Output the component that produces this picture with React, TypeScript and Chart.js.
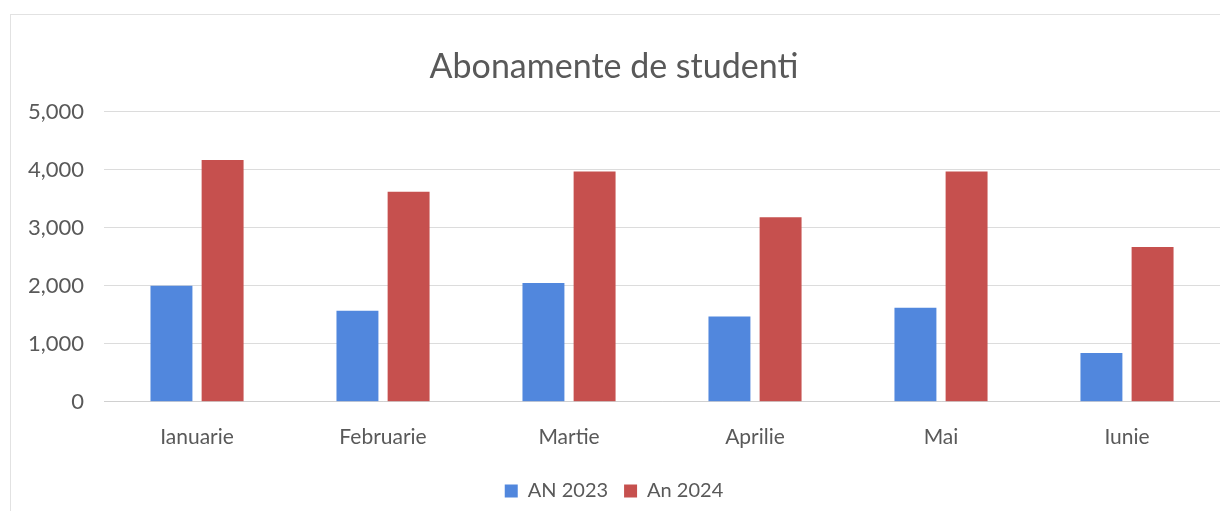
import React, { useEffect, useRef } from "react";
import { Chart, registerables } from "chart.js";

Chart.register(...registerables);

const categories = ["Ianuarie", "Februarie", "Martie", "Aprilie", "Mai", "Iunie"];
const an2023 = [2000, 1570, 2050, 1470, 1620, 840];
const an2024 = [4170, 3620, 3970, 3180, 3970, 2670];
const seriesNames = ["AN 2023", "An 2024"];
const titleText = "Abonamente de studenti";

const FONT = "Lato, 'Open Sans', sans-serif";
const GREY = "#595959";

export default function App() {
  const ref = useRef<HTMLCanvasElement | null>(null);
  useEffect(() => {
    document.body.style.margin = "0";
    const ctx = ref.current!;
    const chart = new Chart(ctx, {
      type: "bar",
      data: {
        labels: categories,
        datasets: [
          { label: seriesNames[0], data: an2023, backgroundColor: "#5187dd", categoryPercentage: 0.55, barPercentage: 0.82 },
          { label: seriesNames[1], data: an2024, backgroundColor: "#c6504e", categoryPercentage: 0.55, barPercentage: 0.82 },
        ],
      },
      options: {
        responsive: false,
        animation: false,
        layout: { padding: { top: 47, left: 8, right: 0, bottom: 0 } },
        plugins: {
          title: {
            display: true,
            text: titleText,
            color: GREY,
            font: { family: FONT, size: 34, weight: "normal" },
            padding: { top: 0, bottom: 24 },
          },
          legend: {
            position: "bottom",
            labels: {
              color: GREY,
              font: { family: FONT, size: 20 },
              boxWidth: 13,
              boxHeight: 13,
              padding: 16,
            },
          },
          tooltip: { enabled: false },
        },
        scales: {
          x: {
            grid: { display: false },
            border: { color: "#d0d0d0" },
            ticks: { color: GREY, font: { family: FONT, size: 21 }, padding: 15 },
          },
          y: {
            min: 0,
            max: 5000,
            ticks: {
              stepSize: 1000,
              color: GREY,
              font: { family: FONT, size: 22 },
              padding: 20,
              callback: (v: any) => Number(v).toLocaleString("en-US"),
            },
            grid: { color: "#dcdcdc", drawTicks: false },
            border: { display: false },
          },
        },
      },
    });
    return () => chart.destroy();
  }, []);
  return (
    <div style={{ position: "absolute", left: 0, top: 0, width: 1220, height: 511, background: "#fff" }}>
      <div style={{ position: "absolute", left: 10, top: 14, width: 1210, height: 497, borderLeft: "1px solid #e2e2e2", borderTop: "1px solid #e2e2e2" }} />
      <canvas ref={ref} width={1220} height={511} style={{ position: "absolute", left: 0, top: 0 }} />
    </div>
  );
}
